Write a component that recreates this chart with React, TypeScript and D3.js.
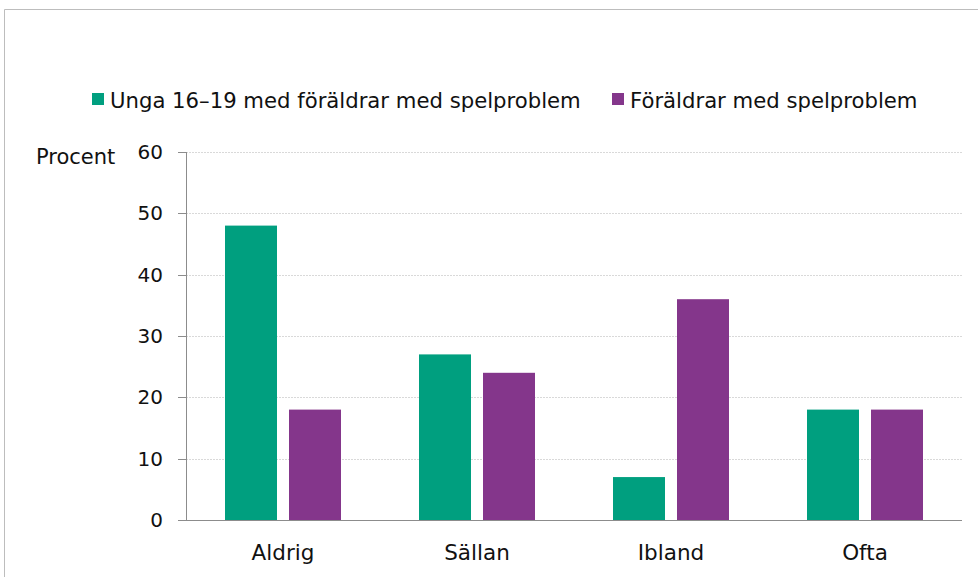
import React from "react";
import * as d3 from "d3";

const categories = ["Aldrig", "Sällan", "Ibland", "Ofta"];
const seriesNames = ["Unga 16–19 med föräldrar med spelproblem", "Föräldrar med spelproblem"];
const youthValues = [48, 27, 7, 18];
const parentValues = [18, 24, 36, 18];
const yTicks = [0, 10, 20, 30, 40, 50, 60];
const colors = ["#009F7F", "#84368B"];

const W = 978;
const H = 577;
const FONT = "'DejaVu Sans', Verdana, sans-serif";

export default function App() {
  const left = 186, right = 962, top = 152, bottom = 520;
  const x = d3.scaleBand<string>().domain(categories).range([left, right]);
  const y = d3.scaleLinear().domain([0, 60]).range([bottom, top]);
  const barW = 52;
  const gap = 12;
  const series = [youthValues, parentValues];

  return (
    <svg width={W} height={H} style={{ position: "absolute", left: 0, top: 0, background: "#fff" }} fontFamily={FONT}>
      <line x1={4.5} y1={9.5} x2={W} y2={9.5} stroke="#bdbdbd" strokeWidth={1} />
      <line x1={4.5} y1={9.5} x2={4.5} y2={H} stroke="#bdbdbd" strokeWidth={1} />

      {/* legend */}
      {seriesNames.map((name, i) => {
        const lx = i === 0 ? 92 : 612;
        return (
          <g key={name}>
            <rect x={lx} y={93} width={12} height={12} fill={colors[i]} />
            <text x={lx + 18} y={108} fontSize={21.2} fill="#111">{name}</text>
          </g>
        );
      })}

      {/* gridlines */}
      {yTicks.filter((t) => t > 0).map((t) => (
        <line key={t} x1={left} x2={right} y1={Math.round(y(t)) + 0.5} y2={Math.round(y(t)) + 0.5} stroke="#d9d9d9" strokeWidth={1} strokeDasharray="2,1" />
      ))}

      {/* bars */}
      {categories.map((c, ci) => {
        const cx = (x(c) as number) + x.bandwidth() / 2;
        return series.map((vals, si) => {
          const bx = si === 0 ? cx - gap / 2 - barW : cx + gap / 2;
          return (
            <rect key={c + si} x={bx} y={y(vals[ci])} width={barW} height={y(0) - y(vals[ci])} fill={colors[si]} />
          );
        });
      })}

      {/* axes */}
      <line x1={left + 0.5} x2={left + 0.5} y1={top} y2={bottom} stroke="#8c8c8c" strokeWidth={1} />
      <line x1={178} x2={right} y1={bottom + 0.5} y2={bottom + 0.5} stroke="#8c8c8c" strokeWidth={1} />
      {yTicks.map((t) => (
        <g key={t}>
          <line x1={178} x2={left} y1={Math.round(y(t)) + 0.5} y2={Math.round(y(t)) + 0.5} stroke="#8c8c8c" strokeWidth={1} />
          <text x={163} y={y(t) + 7} fontSize={20} textAnchor="end" fill="#111">{t}</text>
        </g>
      ))}
      <text x={36} y={164} fontSize={21} fill="#111">Procent</text>

      {categories.map((c) => (
        <text key={c} x={(x(c) as number) + x.bandwidth() / 2} y={560} fontSize={21.5} textAnchor="middle" fill="#111">{c}</text>
      ))}
    </svg>
  );
}
